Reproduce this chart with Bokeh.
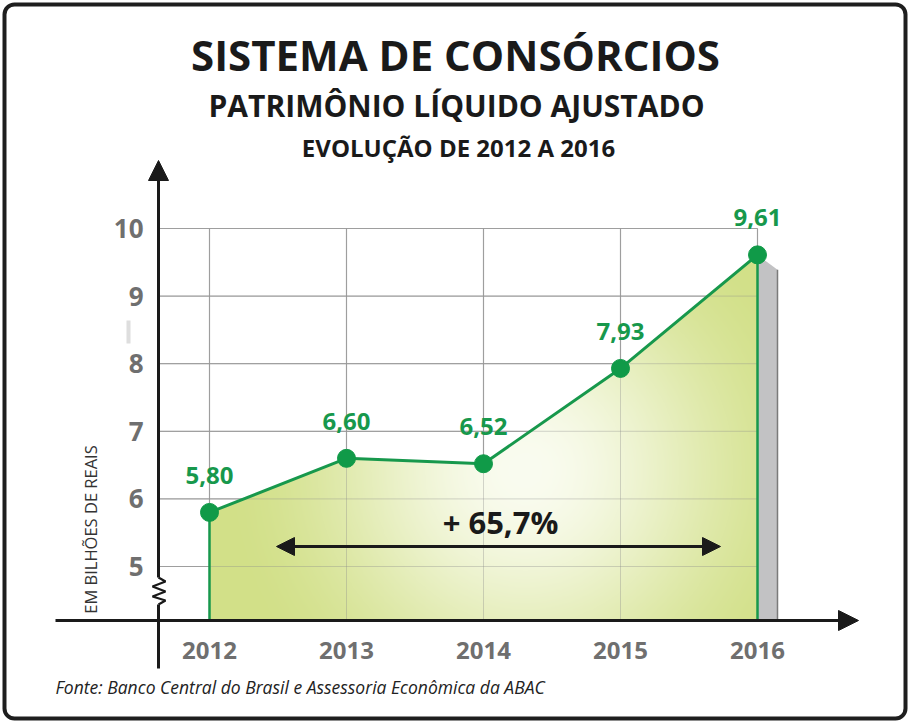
import numpy as np
from bokeh.plotting import figure
from bokeh.models import Range1d, FixedTicker, Arrow, NormalHead
from bokeh.core.properties import value
from bokeh.embed import file_html
from bokeh.resources import INLINE

# ---------------- data ----------------
years = [2012, 2013, 2014, 2015, 2016]
year_labels = ["2012", "2013", "2014", "2015", "2016"]
values = [5.80, 6.60, 6.52, 7.93, 9.61]
value_labels = ["5,80", "6,60", "6,52", "7,93", "9,61"]
y_ticks = [5, 6, 7, 8, 9, 10]
y_tick_labels = ["5", "6", "7", "8", "9", "10"]
growth_label = "+ 65,7%"
title = "SISTEMA DE CONSÓRCIOS"
subtitle = "PATRIMÔNIO LÍQUIDO AJUSTADO"
subtitle2 = "EVOLUÇÃO DE 2012 A 2016"
y_label = "EM BILHÕES DE REAIS"
source_note = "Fonte:  Banco Central do Brasil e Assessoria Econômica da ABAC"

# ---------------- layout (pixel geometry of the picture) ----------------
W, H = 909, 722
X0_PX, X_STEP = 209, 137.0      # pixel of first year, pixels per year
Y5_PX, Y_STEP = 566, 67.6       # pixel of value 5, pixels per unit


def dx(px):
    return years[0] + (px - X0_PX) / X_STEP


def dy(py):
    return 5 + (Y5_PX - py) / Y_STEP


def baseline(py, fs):
    # compensate the renderer's alphabetic-baseline placement
    return dy(py - 0.37 * fs)


Y_BASE = dy(620)     # x-axis line
X_AXIS = dx(158)     # y-axis line

FONT = value("Open Sans")
GREEN = "#17984c"
GREY_TXT = "#6f6f6f"
INK = "#1a1a1a"

p = figure(width=W, height=H, x_range=Range1d(dx(0), dx(W)), y_range=Range1d(dy(H), dy(0)),
           output_backend="svg", toolbar_location=None, min_border=0,
           outline_line_color=None, background_fill_color="white", border_fill_color="white")
p.grid.grid_line_color = None

# axes (fixed inside the plot)
p.xaxis.fixed_location = Y_BASE
p.xaxis.ticker = FixedTicker(ticks=years)
p.xaxis.major_label_overrides = {y: l for y, l in zip(years, year_labels)}
p.yaxis.fixed_location = X_AXIS
p.yaxis.ticker = FixedTicker(ticks=y_ticks)
p.yaxis.major_label_overrides = {t: l for t, l in zip(y_ticks, y_tick_labels)}
for ax in (p.xaxis, p.yaxis):
    ax.axis_line_color = None
    ax.major_tick_line_color = None
    ax.minor_tick_line_color = None
    ax.major_tick_in = 0
    ax.major_tick_out = 0
    ax.major_label_text_font = "Open Sans"
    ax.major_label_text_font_style = "bold"
    ax.major_label_text_color = GREY_TXT
p.xaxis.major_label_text_font_size = "24px"
p.xaxis.major_label_standoff = 21
p.yaxis.major_label_text_font_size = "26px"
p.yaxis.major_label_standoff = 15

# grid lines (under fill)
top_tick = max(y_ticks)
p.segment(x0=years, y0=[Y_BASE] * len(years), x1=years, y1=[top_tick] * len(years),
          line_color="#a9a9a9", line_width=1.2)
p.segment(x0=[X_AXIS] * len(y_ticks), y0=y_ticks, x1=[years[-1]] * len(y_ticks), y1=y_ticks,
          line_color="#a9a9a9", line_width=1.2)

# gradient area fill
nx, ny = 600, 420
vmax = max(values)
xs_img = np.linspace(years[0], years[-1], nx)
ys_img = np.linspace(Y_BASE, vmax, ny)
XX, YY = np.meshgrid(xs_img, ys_img)
inside = YY <= np.interp(XX, years, values)
cx, cy = dx(525), dy(470)
dist = np.hypot((XX - cx) * X_STEP, (YY - cy) * Y_STEP) / 310.0
t = np.clip(dist, 0, 1)
t = t * t * (3 - 2 * t)
c_center = np.array([250, 252, 240], dtype=float)
c_edge = np.array([210, 224, 136], dtype=float)
rgb = c_center + (c_edge - c_center) * t[..., None]
img = np.zeros((ny, nx, 4), dtype=np.uint8)
img[..., :3] = rgb.astype(np.uint8)
img[..., 3] = np.where(inside, 255, 0).astype(np.uint8)
p.image_rgba(image=[img.view(np.uint32).reshape(ny, nx)], x=years[0], y=Y_BASE,
             dw=years[-1] - years[0], dh=vmax - Y_BASE)

# grid lines seen through the fill
p.segment(x0=years, y0=[Y_BASE] * len(years), x1=years, y1=[top_tick] * len(years),
          line_color="#8a8a8a", line_width=1, line_alpha=0.35)
p.segment(x0=[X_AXIS] * len(y_ticks), y0=y_ticks, x1=[years[-1]] * len(y_ticks), y1=y_ticks,
          line_color="#8a8a8a", line_width=1, line_alpha=0.35)

# shadow side of last year
sw = 20 / X_STEP
sd = 15 / Y_STEP
p.patch(x=[years[-1], years[-1] + sw, years[-1] + sw, years[-1]],
        y=[values[-1], values[-1] - sd, Y_BASE, Y_BASE],
        fill_color="#c2c2c4", line_color=None)
p.segment(x0=[years[-1] + sw], y0=[values[-1] - sd], x1=[years[-1] + sw], y1=[Y_BASE],
          line_color="#7a7a7a", line_width=1.5)

# green edges, line and markers
p.segment(x0=[years[0], years[-1]], y0=[Y_BASE, Y_BASE], x1=[years[0], years[-1]],
          y1=[values[0], values[-1]], line_color=GREEN, line_width=2.5)
p.line(years, values, line_color=GREEN, line_width=3)
p.scatter(years, values, size=18, fill_color="#109a48", line_color="#109a48")
p.text(x=years, y=values, text=value_labels, text_align="center", text_baseline="alphabetic",
       y_offset=-37, text_font=FONT, text_font_style="bold", text_font_size="24px",
       text_color=GREEN)

# axes lines with arrows
p.add_layout(Arrow(x_start=dx(55), y_start=Y_BASE, x_end=dx(858), y_end=Y_BASE,
                   line_color=INK, line_width=3,
                   end=NormalHead(size=20, fill_color=INK, line_color=INK)))
p.add_layout(Arrow(x_start=X_AXIS, y_start=dy(577), x_end=X_AXIS, y_end=dy(160),
                   line_color=INK, line_width=3,
                   end=NormalHead(size=20, fill_color=INK, line_color=INK)))
p.segment(x0=[X_AXIS], y0=dy(668), x1=[X_AXIS], y1=[dy(604)], line_color=INK, line_width=3)
zz_px = [158, 165, 152, 165, 152, 165, 158]
zz_py = [577, 581, 586, 591, 596, 600, 604]
p.line([dx(v) for v in zz_px], [dy(v) for v in zz_py], line_color=INK, line_width=2.2)

# growth double arrow and label
p.add_layout(Arrow(x_start=dx(276), y_start=dy(546), x_end=dx(720), y_end=dy(546),
                   line_color=INK, line_width=3,
                   start=NormalHead(size=18, fill_color=INK, line_color=INK),
                   end=NormalHead(size=18, fill_color=INK, line_color=INK)))
p.text(x=[dx(500)], y=[baseline(533, 31)], text=[growth_label], text_align="center",
       text_baseline="alphabetic", text_font=FONT, text_font_style="bold",
       text_font_size="31px", text_color=INK)

# titles
p.text(x=[dx(455)], y=[baseline(70, 42)], text=[title], text_align="center", text_baseline="alphabetic",
       text_font=FONT, text_font_style="bold", text_font_size="42px", text_color=INK)
p.text(x=[dx(456)], y=[baseline(116, 30)], text=[subtitle], text_align="center", text_baseline="alphabetic",
       text_font=FONT, text_font_style="bold", text_font_size="30px", text_color=INK)
p.text(x=[dx(458)], y=[baseline(156, 24)], text=[subtitle2], text_align="center", text_baseline="alphabetic",
       text_font=FONT, text_font_style="bold", text_font_size="24px", text_color=INK)

# y label
p.text(x=[dx(90)], y=[dy(529)], text=[y_label], angle=np.pi / 2, text_align="center",
       text_baseline="middle", text_font=FONT, text_font_size="16.5px", text_color="#333333")

# small grey mark at left
p.segment(x0=[dx(128)], y0=[dy(320)], x1=[dx(128)], y1=[dy(343)], line_color="#dedede", line_width=4)

# source note
p.text(x=[dx(55)], y=[baseline(693, 17.5)], text=[source_note], text_align="left",
       text_baseline="alphabetic", text_font=FONT, text_font_style="italic",
       text_font_size="17.5px", text_color="#222222")

# frame border
p.quad(left=[dx(4)], right=[dx(905)], top=[dy(4)], bottom=[dy(718)], fill_color=None,
       line_color="#1e1e1e", line_width=4, border_radius=10)

open("out.html", "w").write(file_html(p, INLINE))
